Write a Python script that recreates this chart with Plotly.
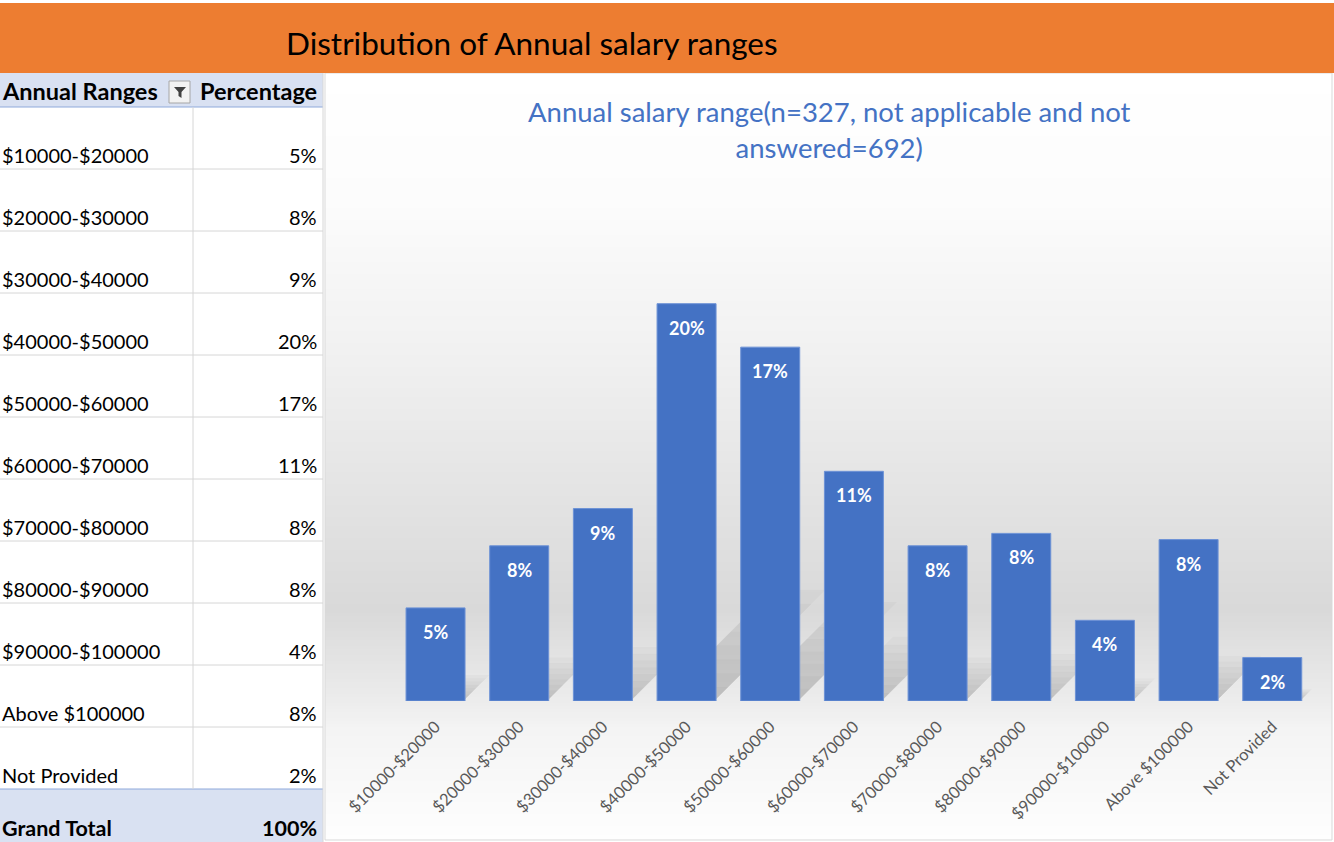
import plotly.graph_objects as go

W, H = 1334, 842

banner_title = 'Distribution of Annual salary ranges'
chart_title = 'Annual salary range(n=327, not applicable and not<br>answered=692)'
col_headers = ['Annual Ranges', 'Percentage']
ranges = ['$10000-$20000', '$20000-$30000', '$30000-$40000', '$40000-$50000',
          '$50000-$60000', '$60000-$70000', '$70000-$80000', '$80000-$90000',
          '$90000-$100000', 'Above $100000', 'Not Provided']
# respondents per range, n = 327
counts = [15, 25, 31, 64, 57, 37, 25, 27, 13, 26, 7]
total_label = 'Grand Total'

n = sum(counts)
shares = [c / n for c in counts]
pct_text = [f'{s:.0%}' for s in shares]

FONT = 'Lato'
BLUE = '#4472C4'


def px_x(x):
    return x / W


def px_y(y):
    return 1 - y / H


def grey_at(y, stops):
    for (y0, g0), (y1, g1) in zip(stops, stops[1:]):
        if y0 <= y <= y1:
            g = round(g0 + (g1 - g0) * (y - y0) / (y1 - y0))
            return f'rgb({g},{g},{g})'
    g = stops[-1][1]
    return f'rgb({g},{g},{g})'


def label(text, x, y, size, color='#000000', xanchor='left'):
    return dict(text=text, xref='paper', yref='paper', x=x, y=y,
                xanchor=xanchor, yanchor='middle', showarrow=False,
                font=dict(family=FONT, size=size, color=color))


shapes = []
annotations = []

# chart area background gradient
grey_stops = [(73, 255), (200, 252), (350, 241), (500, 227), (610, 217),
              (700, 236), (730, 244), (842, 254)]
step = 3
for y in range(73, 840, step):
    shapes.append(dict(type='rect', xref='paper', yref='paper', layer='below',
                       x0=px_x(325), x1=px_x(1332), y0=px_y(y + step), y1=px_y(y),
                       fillcolor=grey_at(y + step / 2, grey_stops), line_width=0))
shapes.append(dict(type='rect', xref='paper', yref='paper', layer='below',
                   x0=px_x(325), x1=px_x(1332), y0=px_y(840), y1=px_y(73),
                   line=dict(color='#d9d9d9', width=1)))

# soft cast shadows behind the bars
half = (1 - 0.295) / 2
for i, s in enumerate(shares):
    for k in range(1, 9):
        rise = 0.035 * k
        dx = rise * s * 2030 / 83.68
        shapes.append(dict(type='path', xref='x', yref='y', layer='below',
                           path=f'M {i - half + 0.05},0 L {i + half - 0.02},0 '
                                f'L {i + half - 0.02 + dx},{rise * s} '
                                f'L {i - half + 0.05 + dx},{rise * s} Z',
                           fillcolor='rgba(0,0,0,0.022)', line_width=0))

# orange banner
shapes.append(dict(type='rect', xref='paper', yref='paper', layer='below',
                   x0=0, x1=1, y0=px_y(73), y1=px_y(3),
                   fillcolor='#ED7D31', line_width=0))
annotations.append(label(banner_title, px_x(532), px_y(43), 31.5, xanchor='center'))

# pivot table on the left
row_h = 62
top = 107
tbl_r = 323
div_x = 193
bottom_rows = top + row_h * len(ranges)
shapes.append(dict(type='rect', xref='paper', yref='paper', layer='below',
                   x0=0, x1=px_x(tbl_r), y0=px_y(top), y1=px_y(73),
                   fillcolor='#D9E1F2', line_width=0))
shapes.append(dict(type='rect', xref='paper', yref='paper', layer='below',
                   x0=0, x1=px_x(tbl_r), y0=0, y1=px_y(bottom_rows),
                   fillcolor='#D9E1F2', line_width=0))
for i in range(1, len(ranges)):
    y = top + row_h * i
    shapes.append(dict(type='line', xref='paper', yref='paper',
                       x0=0, x1=px_x(tbl_r), y0=px_y(y), y1=px_y(y),
                       line=dict(color='#d6d6d6', width=1)))
for y in (top, bottom_rows):
    shapes.append(dict(type='line', xref='paper', yref='paper',
                       x0=0, x1=px_x(tbl_r), y0=px_y(y), y1=px_y(y),
                       line=dict(color='#8EA9DB', width=1)))
shapes.append(dict(type='line', xref='paper', yref='paper',
                   x0=px_x(div_x), x1=px_x(div_x), y0=px_y(bottom_rows), y1=px_y(top),
                   line=dict(color='#d6d6d6', width=1)))
shapes.append(dict(type='line', xref='paper', yref='paper',
                   x0=px_x(tbl_r), x1=px_x(tbl_r), y0=0, y1=px_y(73),
                   line=dict(color='#d6d6d6', width=1)))

# filter button
shapes.append(dict(type='rect', xref='paper', yref='paper',
                   x0=px_x(169), x1=px_x(190), y0=px_y(103), y1=px_y(81),
                   fillcolor='#f2f2f2', line=dict(color='#a6a6a6', width=1)))
shapes.append(dict(type='path', xref='paper', yref='paper',
                   path=f'M {px_x(174)},{px_y(87)} L {px_x(186)},{px_y(87)} '
                        f'L {px_x(181.5)},{px_y(92)} L {px_x(181.5)},{px_y(98)} '
                        f'L {px_x(178.5)},{px_y(96)} L {px_x(178.5)},{px_y(92)} Z',
                   fillcolor='#404040', line_width=0))

annotations.append(label(f'<b>{col_headers[0]}</b>', px_x(0), px_y(91), 23.5))
annotations.append(label(f'<b>{col_headers[1]}</b>', px_x(319), px_y(91), 23.5, xanchor='right'))
for i, (name, txt) in enumerate(zip(ranges, pct_text)):
    yc = top + row_h * (i + 1) - 14
    annotations.append(label(name, px_x(0), px_y(yc), 20))
    annotations.append(label(txt, px_x(319), px_y(yc), 20, xanchor='right'))
annotations.append(label(f'<b>{total_label}</b>', px_x(0), px_y(828), 21.5))
annotations.append(label(f'<b>{sum(shares):.0%}</b>', px_x(319), px_y(828), 21.5, xanchor='right'))

# chart title
annotations.append(label(chart_title, px_x(829), px_y(130), 27.5, color=BLUE, xanchor='center'))

# bar labels
for cat, s, txt in zip(ranges, shares, pct_text):
    annotations.append(dict(text=f'<b>{txt}</b>', x=cat, y=s, xref='x', yref='y',
                            yshift=-24, yanchor='middle', showarrow=False,
                            font=dict(family=FONT, size=18, color='#ffffff')))

fig = go.Figure(go.Bar(
    x=ranges, y=shares,
    marker=dict(color=BLUE, line=dict(color='#6d92d6', width=1)),
    hoverinfo='skip',
))

fig.update_layout(
    width=W, height=H,
    margin=dict(l=0, r=0, t=0, b=0, autoexpand=False),
    paper_bgcolor='#ffffff', plot_bgcolor='rgba(0,0,0,0)',
    showlegend=False,
    bargap=0.295,
    shapes=shapes,
    annotations=annotations,
    xaxis=dict(domain=[px_x(393.7), px_x(1314.1)], range=[-0.5, len(ranges) - 0.5],
               automargin=False, tickangle=-45, showgrid=False, showline=False,
               zeroline=False, ticks='', ticklabelstandoff=12,
               tickfont=dict(family=FONT, size=16.5, color='#595959')),
    yaxis=dict(domain=[px_y(701), px_y(193.5)], range=[0, 0.25], visible=False,
               automargin=False),
)

fig.write_html('out.html', config={'displayModeBar': False},
               post_script="document.body.style.margin='0px';")
